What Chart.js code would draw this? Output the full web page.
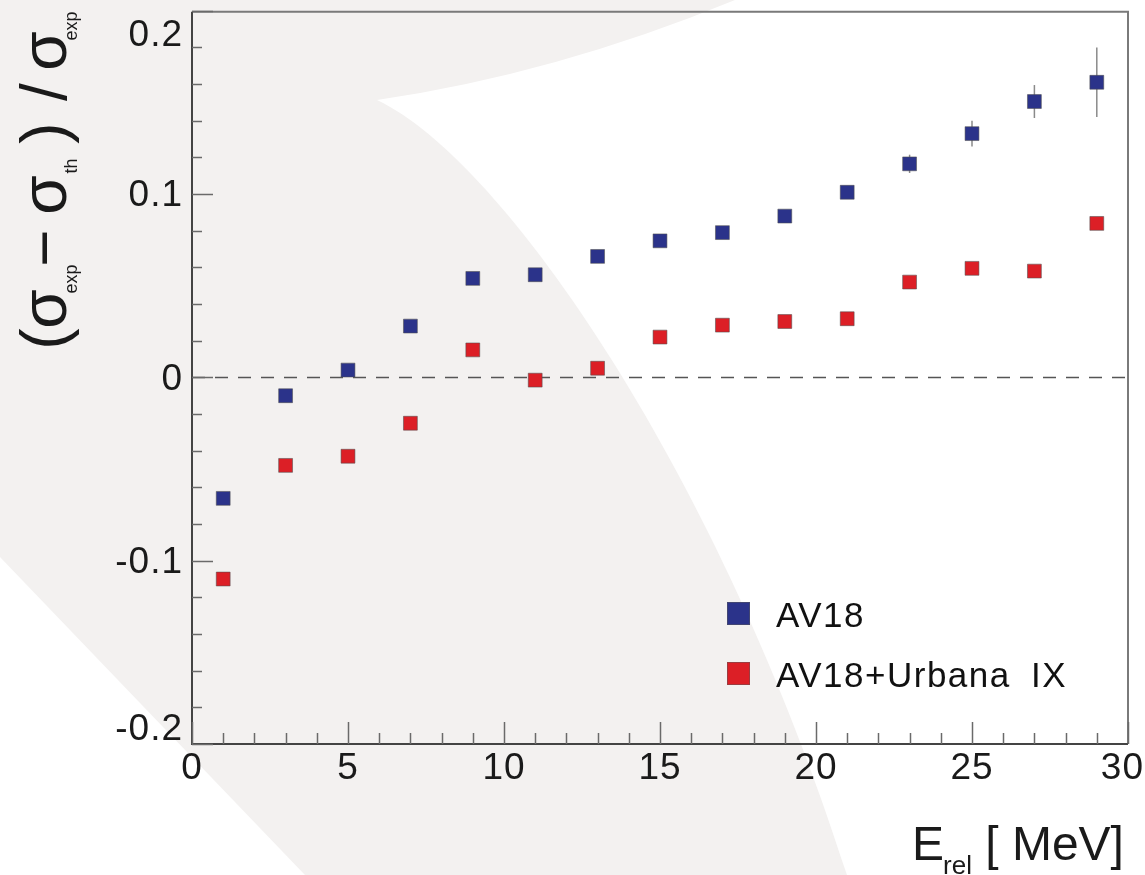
<!DOCTYPE html>
<html>
<head>
<meta charset="utf-8">
<title>AV18 vs AV18+Urbana IX</title>
<script src="https://cdn.jsdelivr.net/npm/chart.js@4/dist/chart.umd.min.js"></script>
<style>
  html, body { margin: 0; padding: 0; background: #ffffff; }
  canvas { display: block; }
</style>
</head>
<body>
<canvas id="chart" width="1145" height="875"></canvas>
<script>
// relative energy bins, MeV
const energies = [1, 3, 5, 7, 9, 11, 13, 15, 17, 19, 21, 23, 25, 27, 29];

// (sigma_exp - sigma_th) / sigma_exp
const av18Values = [-0.066, -0.010, 0.004, 0.028, 0.054, 0.056, 0.066, 0.0745, 0.079, 0.088, 0.101, 0.1165, 0.133, 0.1505, 0.161];
const av18Errors = [0.002, 0.002, 0.002, 0.002, 0.002, 0.002, 0.002, 0.002, 0.002, 0.002, 0.003, 0.005, 0.007, 0.009, 0.019];
const urbanaValues = [-0.110, -0.048, -0.043, -0.025, 0.015, -0.0015, 0.005, 0.022, 0.0285, 0.0305, 0.032, 0.052, 0.0595, 0.058, 0.084];
const urbanaErrors = [0.002, 0.002, 0.002, 0.002, 0.002, 0.002, 0.002, 0.002, 0.002, 0.002, 0.002, 0.002, 0.002, 0.002, 0.002];

const seriesNames = ['AV18', 'AV18+Urbana IX'];
const seriesColors = ['#2b338a', '#dc1f26'];

const xTicks = [0, 5, 10, 15, 20, 25, 30];
const xTickLabels = ['0', '5', '10', '15', '20', '25', '30'];
const yTicks = [-0.2, -0.1, 0, 0.1, 0.2];
const yTickLabels = ['-0.2', '-0.1', '0', '0.1', '0.2'];
const xMinorStep = 1;
const yMinorStep = 0.02;

const FONT = '"Liberation Sans", Arial, Helvetica, sans-serif';

function toPoints(values) {
  return energies.map((e, i) => ({ x: e, y: values[i] }));
}

// pale swoosh behind the whole figure
const backdropPlugin = {
  id: 'backdrop',
  beforeDraw(chart) {
    const ctx = chart.ctx;
    ctx.save();
    ctx.fillStyle = '#ffffff';
    ctx.fillRect(0, 0, chart.width, chart.height);
    ctx.fillStyle = '#f3f1f0';
    ctx.beginPath();
    ctx.moveTo(0, 0);
    ctx.lineTo(735, 0);
    ctx.quadraticCurveTo(555, 74, 377, 100);
    ctx.bezierCurveTo(505, 160, 722, 480, 847, 875);
    ctx.lineTo(305, 875);
    ctx.lineTo(0, 557);
    ctx.closePath();
    ctx.fill();
    ctx.restore();
  }
};

// zero line and error bars under the markers
const underlayPlugin = {
  id: 'underlay',
  beforeDatasetsDraw(chart) {
    const ctx = chart.ctx;
    const xs = chart.scales.x;
    const ys = chart.scales.y;
    const area = chart.chartArea;

    ctx.save();
    ctx.strokeStyle = '#555555';
    ctx.lineWidth = 1.5;
    ctx.setLineDash([13, 10]);
    ctx.beginPath();
    ctx.moveTo(area.left, ys.getPixelForValue(0));
    ctx.lineTo(area.right, ys.getPixelForValue(0));
    ctx.stroke();
    ctx.setLineDash([]);

    const errs = [av18Errors, urbanaErrors];
    const vals = [av18Values, urbanaValues];
    ctx.strokeStyle = '#8a8a8a';
    ctx.lineWidth = 1.5;
    for (let d = 0; d < errs.length; d++) {
      for (let i = 0; i < energies.length; i++) {
        const px = xs.getPixelForValue(energies[i]);
        ctx.beginPath();
        ctx.moveTo(px, ys.getPixelForValue(vals[d][i] + errs[d][i]));
        ctx.lineTo(px, ys.getPixelForValue(vals[d][i] - errs[d][i]));
        ctx.stroke();
      }
    }
    ctx.restore();
  }
};

// frame, inward ticks, labels, titles and legend
const framePlugin = {
  id: 'frame',
  afterDraw(chart) {
    const ctx = chart.ctx;
    const xs = chart.scales.x;
    const ys = chart.scales.y;
    const a = chart.chartArea;

    ctx.save();
    ctx.lineWidth = 2;
    ctx.strokeStyle = '#7a7a7a';
    ctx.beginPath();
    ctx.moveTo(a.left, a.top + 1);
    ctx.lineTo(a.right, a.top + 1);
    ctx.lineTo(a.right, a.bottom);
    ctx.stroke();
    ctx.strokeStyle = '#444444';
    ctx.beginPath();
    ctx.moveTo(a.left, a.top + 1);
    ctx.lineTo(a.left, a.bottom);
    ctx.lineTo(a.right, a.bottom);
    ctx.stroke();

    // ticks
    ctx.strokeStyle = '#6a6a6a';
    ctx.lineWidth = 1.5;
    for (let v = xs.min; v <= xs.max + 1e-9; v += xMinorStep) {
      const px = Math.round(xs.getPixelForValue(v)) + 0.5;
      const len = xTicks.includes(Math.round(v)) ? 22 : 11;
      ctx.beginPath();
      ctx.moveTo(px, a.bottom);
      ctx.lineTo(px, a.bottom - len);
      ctx.stroke();
    }
    const nMinor = Math.round((ys.max - ys.min) / yMinorStep);
    for (let k = 0; k <= nMinor; k++) {
      const v = ys.min + k * yMinorStep;
      const py = Math.round(ys.getPixelForValue(v)) + 0.5;
      const major = yTicks.some(t => Math.abs(t - v) < 1e-6);
      ctx.beginPath();
      ctx.moveTo(a.left, py);
      ctx.lineTo(a.left + (major ? 21 : 10), py);
      ctx.stroke();
    }

    // tick labels
    ctx.fillStyle = '#1a1a1a';
    ctx.font = '37px ' + FONT;
    ctx.letterSpacing = '1px';
    ctx.textBaseline = 'middle';
    ctx.textAlign = 'right';
    yTicks.forEach((t, i) => {
      let py = ys.getPixelForValue(t);
      py = Math.min(Math.max(py, a.top + 23), a.bottom - 16);
      ctx.fillText(yTickLabels[i], a.left - 9, py + 2);
    });
    ctx.textAlign = 'center';
    xTicks.forEach((t, i) => {
      let px = xs.getPixelForValue(t);
      const w = ctx.measureText(xTickLabels[i]).width;
      px = Math.min(px, chart.width - w / 2 - 1);
      ctx.fillText(xTickLabels[i], px, a.bottom + 25);
    });

    // x title
    ctx.textAlign = 'left';
    ctx.textBaseline = 'alphabetic';
    ctx.letterSpacing = '0px';
    let tx = 912;
    ctx.font = '48px ' + FONT;
    ctx.fillText('E', tx, 860);
    tx += ctx.measureText('E').width - 1;
    ctx.font = '26px ' + FONT;
    ctx.fillText('rel', tx, 874);
    tx += ctx.measureText('rel').width;
    ctx.font = '48px ' + FONT;
    ctx.fillText(' [ MeV]', tx, 860);

    // y title, rotated, placed piece by piece
    const big = '64px ' + FONT;
    const small = '18px ' + FONT;
    const pieces = [
      { t: '(', f: big, c: 339, b: 66 },
      { t: 'σ', f: big, c: 309, b: 66 },
      { t: 'exp', f: small, c: 279, b: 77 },
      { t: '−', f: big, c: 248, b: 66 },
      { t: 'σ', f: big, c: 195, b: 66 },
      { t: 'th', f: small, c: 166, b: 77 },
      { t: ')', f: big, c: 133, b: 66 },
      { t: '/', f: big, c: 92, b: 66 },
      { t: 'σ', f: big, c: 51, b: 66 },
      { t: 'exp', f: small, c: 26, b: 77 }
    ];
    ctx.textAlign = 'center';
    pieces.forEach(p => {
      ctx.save();
      ctx.translate(p.b, p.c);
      ctx.rotate(-Math.PI / 2);
      ctx.font = p.f;
      ctx.fillText(p.t, 0, 0);
      ctx.restore();
    });

    // legend
    ctx.textAlign = 'left';
    ctx.font = '35px ' + FONT;
    ctx.letterSpacing = '1.5px';
    ctx.wordSpacing = '9px';
    const legendTop = [602, 662];
    seriesNames.forEach((name, i) => {
      ctx.fillStyle = seriesColors[i];
      ctx.fillRect(727, legendTop[i], 23, 23);
      ctx.strokeStyle = 'rgba(90,90,90,0.5)';
      ctx.lineWidth = 1;
      ctx.strokeRect(727.5, legendTop[i] + 0.5, 22, 22);
      ctx.fillStyle = '#111111';
      ctx.fillText(name, 776, legendTop[i] + 25);
    });
    ctx.restore();
  }
};

const chart = new Chart(document.getElementById('chart'), {
  type: 'scatter',
  data: {
    datasets: [
      {
        label: seriesNames[0],
        data: toPoints(av18Values),
        backgroundColor: seriesColors[0],
        borderColor: 'rgba(80,80,80,0.55)',
        borderWidth: 1,
        pointStyle: 'rect',
        pointRadius: 9.8,
        pointHoverRadius: 9.8,
      },
      {
        label: seriesNames[1],
        data: toPoints(urbanaValues),
        backgroundColor: seriesColors[1],
        borderColor: 'rgba(80,80,80,0.55)',
        borderWidth: 1,
        pointStyle: 'rect',
        pointRadius: 9.8,
        pointHoverRadius: 9.8,
      }
    ]
  },
  options: {
    responsive: false,
    animation: false,
    layout: {
      padding: { left: 192, top: 10, right: 17, bottom: 131 }
    },
    scales: {
      x: { type: 'linear', min: 0, max: 30, display: false },
      y: { type: 'linear', min: -0.2, max: 0.2, display: false }
    },
    plugins: {
      legend: { display: false },
      tooltip: { enabled: false }
    }
  },
  plugins: [backdropPlugin, underlayPlugin, framePlugin]
});
</script>
</body>
</html>
